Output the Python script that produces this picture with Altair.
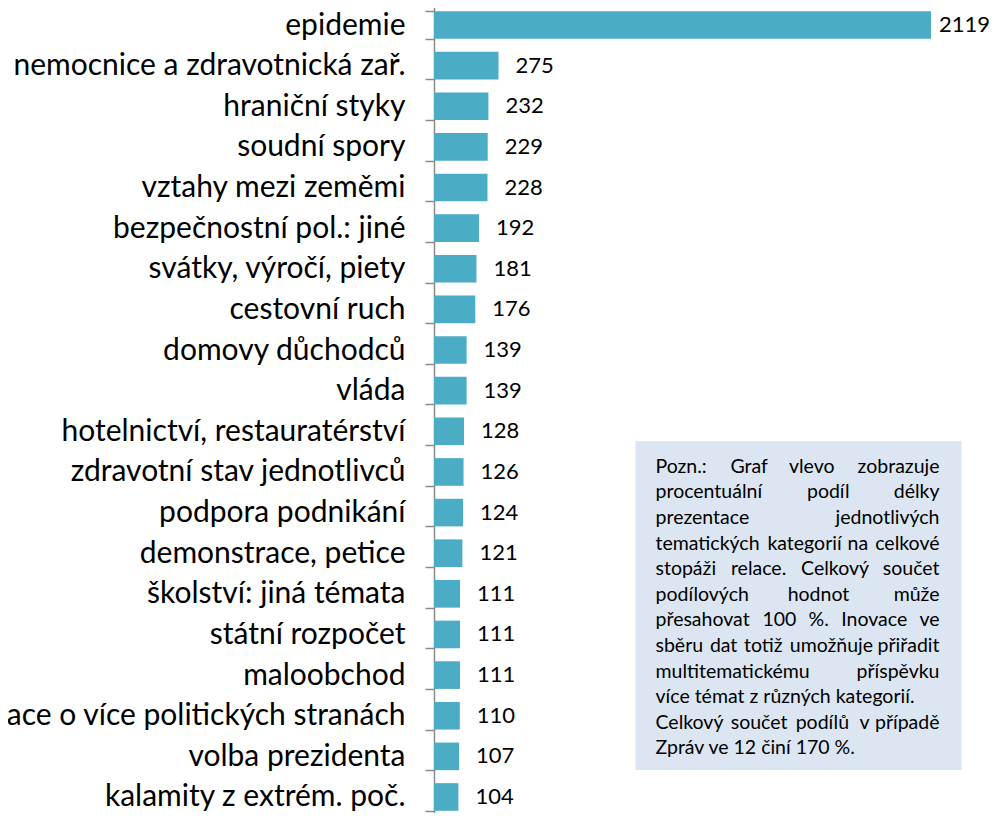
import altair as alt
import pandas as pd

categories = [
    "epidemie", "nemocnice a zdravotnická zař.", "hraniční styky", "soudní spory",
    "vztahy mezi zeměmi", "bezpečnostní pol.: jiné", "svátky, výročí, piety",
    "cestovní ruch", "domovy důchodců", "vláda", "hotelnictví, restauratérství",
    "zdravotní stav jednotlivců", "podpora podnikání", "demonstrace, petice",
    "školství: jiná témata", "státní rozpočet", "maloobchod",
    "informace o více politických stranách", "volba prezidenta", "kalamity z extrém. poč.",
]
values = [2119, 275, 232, 229, 228, 192, 181, 176, 139, 139,
          128, 126, 124, 121, 111, 111, 111, 110, 107, 104]

note_lines = [
    "Pozn.: Graf vlevo zobrazuje",
    "procentuální podíl délky",
    "prezentace jednotlivých",
    "tematických kategorií na celkové",
    "stopáži relace. Celkový součet",
    "podílových hodnot může",
    "přesahovat 100 %. Inovace ve",
    "sběru dat totiž umožňuje přiřadit",
    "multitematickému příspěvku",
    "více témat z různých kategorií.",
    "Celkový součet podílů v případě",
    "Zpráv ve 12 činí 170 %.",
]
justified = [True, True, True, True, True, True, True, True, True, False, True, False]

df = pd.DataFrame({"cat": categories, "value": values})

FONT = "Lato"
W, H = 516, 805
PAD_L = 426
BAR = "#4BACC6"
AX = "#8c8c8c"

# ---- layout of the note (justified text emulation) ----
NOTE_FS = 19.5
NL, NR = 221.5, 505.5
NY0, NDY = 458.7, 25.6
cw = {}
for ch in "iljíI.,:;'|!": cw[ch] = 0.25
for ch in "ftrř": cw[ch] = 0.35
cw[" "] = 0.2
for ch in "mwům": cw[ch] = 0.84
cw["w"] = 0.78
for ch in "0123456789": cw[ch] = 0.58
cw["%"] = 0.8
for ch in "ABCDEFGHJKLMNOPQRSTUVWXYZ": cw[ch] = 0.63
def est(s):
    return sum(cw.get(c, 0.52) for c in s) * NOTE_FS

left_rows, right_rows = [], []
for i, (line, just) in enumerate(zip(note_lines, justified)):
    y = NY0 + NDY * i
    if not just:
        left_rows.append({"x": NL, "y": y, "t": line})
        continue
    words = line.split(" ")
    widths = [est(w) for w in words]
    gap = (NR - NL - sum(widths)) / (len(words) - 1)
    xpos = NL
    for k, w in enumerate(words):
        if k == len(words) - 1:
            right_rows.append({"x": NR, "y": y, "t": w})
        else:
            left_rows.append({"x": xpos, "y": y, "t": w})
        xpos += widths[k] + gap

y_enc = alt.Y(
    "cat:N", sort=categories, title=None,
    scale=alt.Scale(range=[-3.3, 809.3], paddingInner=0.32, paddingOuter=0.16),
    axis=alt.Axis(labelFont=FONT, labelFontSize=30, labelColor="#000000",
                  labelPadding=20, labelLimit=800, tickSize=9, tickColor=AX,
                  tickWidth=1.5, domainColor=AX, domainWidth=1.5,
                  tickBand="extent", grid=False),
)
x_enc = alt.X("value:Q", scale=alt.Scale(domain=[0, 2200], nice=False), axis=None)

base = alt.Chart(df)
bars = base.mark_bar(color=BAR).encode(x=x_enc, y=y_enc)
lab_big = base.transform_filter("datum.value > 1000").mark_text(
    align="left", baseline="middle", dx=8, font=FONT, fontSize=22, color="#000000"
).encode(x=x_enc, y=y_enc, text="value:Q")
lab_small = base.transform_filter("datum.value <= 1000").mark_text(
    align="left", baseline="middle", dx=17, font=FONT, fontSize=22, color="#000000"
).encode(x=x_enc, y=y_enc, text="value:Q")
main = alt.layer(bars, lab_big, lab_small)

box = alt.Chart(pd.DataFrame({"a": [0]})).mark_rect(color="#DCE6F2").encode(
    x=alt.value(201.5), x2=alt.value(527.5), y=alt.value(433), y2=alt.value(762)
)
nx = alt.X("x:Q", scale=None, axis=None)
ny = alt.Y("y:Q", scale=None, axis=None)
words_l = alt.Chart(pd.DataFrame(left_rows)).mark_text(
    align="left", baseline="middle", font=FONT, fontSize=NOTE_FS, color="#000000"
).encode(x=nx, y=ny, text="t:N")
words_r = alt.Chart(pd.DataFrame(right_rows)).mark_text(
    align="right", baseline="middle", font=FONT, fontSize=NOTE_FS, color="#000000"
).encode(x=nx, y=ny, text="t:N")
note = alt.layer(box, words_l, words_r)

chart = alt.layer(main, note).resolve_scale(x="independent", y="independent").properties(
    width=W, height=H,
    autosize=alt.AutoSizeParams(type="none"),
    padding={"left": PAD_L, "top": 0, "right": 40, "bottom": 0},
).configure_view(stroke=None)

chart.save("out.html", embed_options={"renderer": "svg", "actions": False})
